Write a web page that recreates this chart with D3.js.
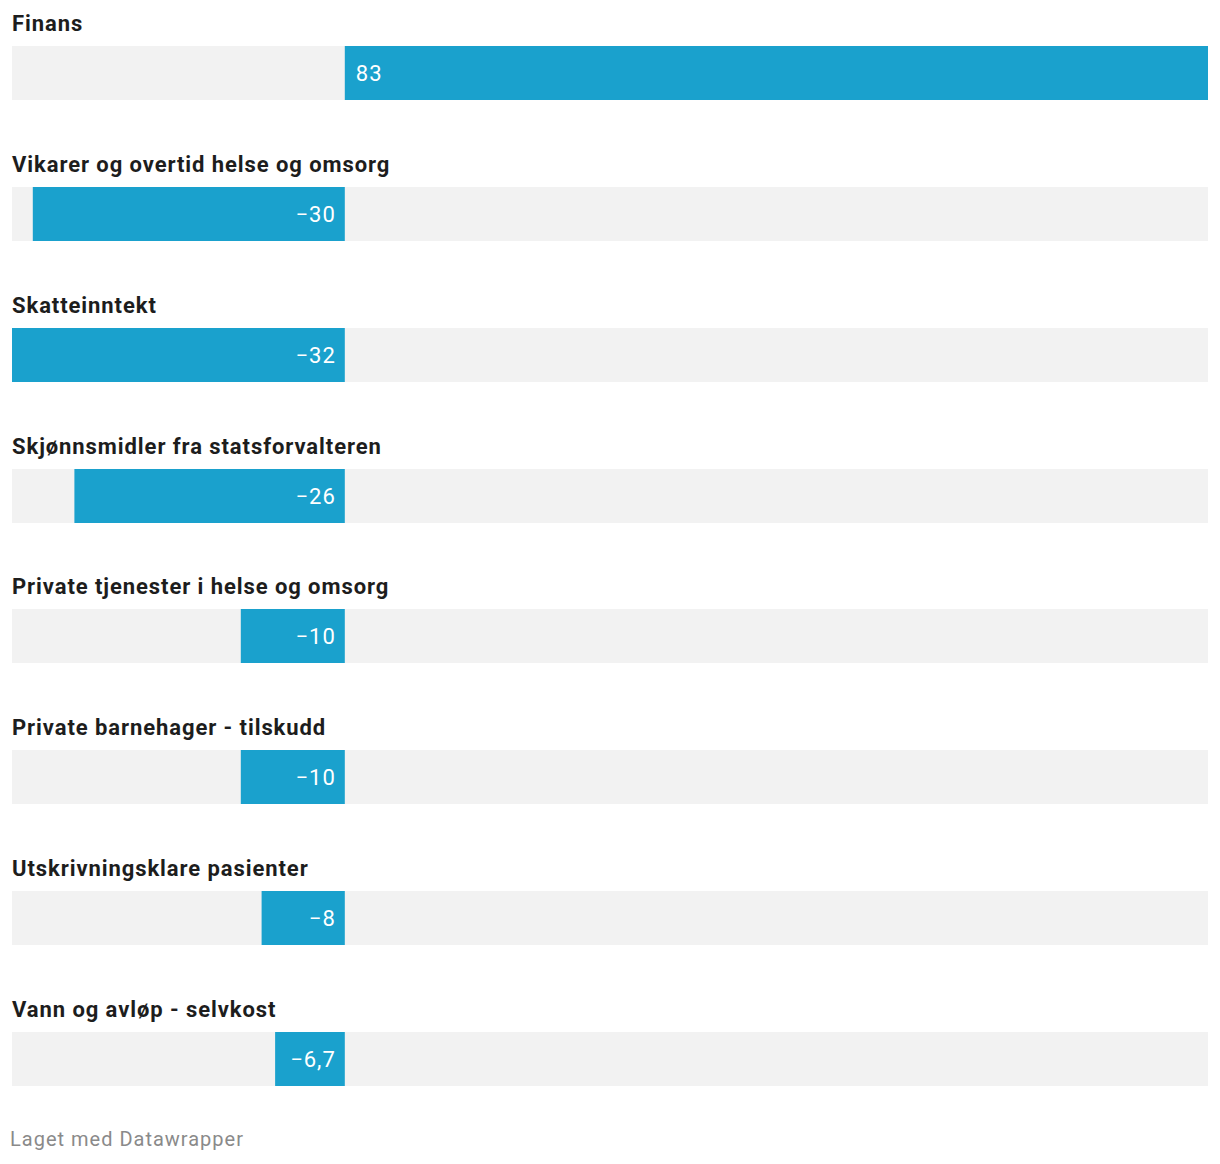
<!DOCTYPE html>
<html><head><meta charset="utf-8">
<script src="https://cdn.jsdelivr.net/npm/d3@7"></script>
<style>body{margin:0;background:#fff;font-family:Roboto,sans-serif;}</style>
</head><body>
<svg id="c" width="1220" height="1164"></svg>
<script>
const categories = ["Finans","Vikarer og overtid helse og omsorg","Skatteinntekt","Skjønnsmidler fra statsforvalteren","Private tjenester i helse og omsorg","Private barnehager - tilskudd","Utskrivningsklare pasienter","Vann og avløp - selvkost"];
const values = [83,-30,-32,-26,-10,-10,-8,-6.7];
const valueLabels = ["83","−30","−32","−26","−10","−10","−8","−6,7"];
const footer = "Laget med Datawrapper";

const svg = d3.select("#c");
const x = d3.scaleLinear().domain([d3.min(values), d3.max(values)]).range([12,1208]);
const y = d3.scaleBand().domain(categories).range([46, 46 + 140.86*8]).paddingInner(0).paddingOuter(0);
const barH = 54;
const rows = svg.selectAll("g.row").data(categories).join("g").attr("transform", d => `translate(0,${Math.round(y(d))})`);
rows.append("rect").attr("x", x.range()[0]).attr("y",0).attr("width", x.range()[1]-x.range()[0]).attr("height", barH).attr("fill","#f2f2f2");
rows.append("rect").attr("x",(d,i)=>Math.min(x(0),x(values[i]))).attr("y",0)
  .attr("width",(d,i)=>Math.abs(x(values[i])-x(0))).attr("height",barH).attr("fill","#1aa1cd");
rows.append("text").attr("x",12).attr("y",-15).text(d=>d)
  .attr("font-size",22).attr("font-weight",700).attr("fill","#1d1d1d").attr("font-family","Roboto")
  .attr("letter-spacing","0.92px");
rows.append("text").attr("x",(d,i)=>values[i]>=0 ? x(0)+11 : x(0)-9).attr("y",barH/2+7.5)
  .attr("text-anchor",(d,i)=>values[i]>=0?"start":"end").text((d,i)=>valueLabels[i])
  .attr("font-size",22).attr("fill","#fff").attr("font-family","Roboto").attr("letter-spacing","1px");
svg.append("text").attr("x",10).attr("y",1146).text(footer).attr("font-size",20).attr("fill","#8a8a8a")
  .attr("font-family","Roboto").attr("letter-spacing","1px");
</script>
</body></html>
